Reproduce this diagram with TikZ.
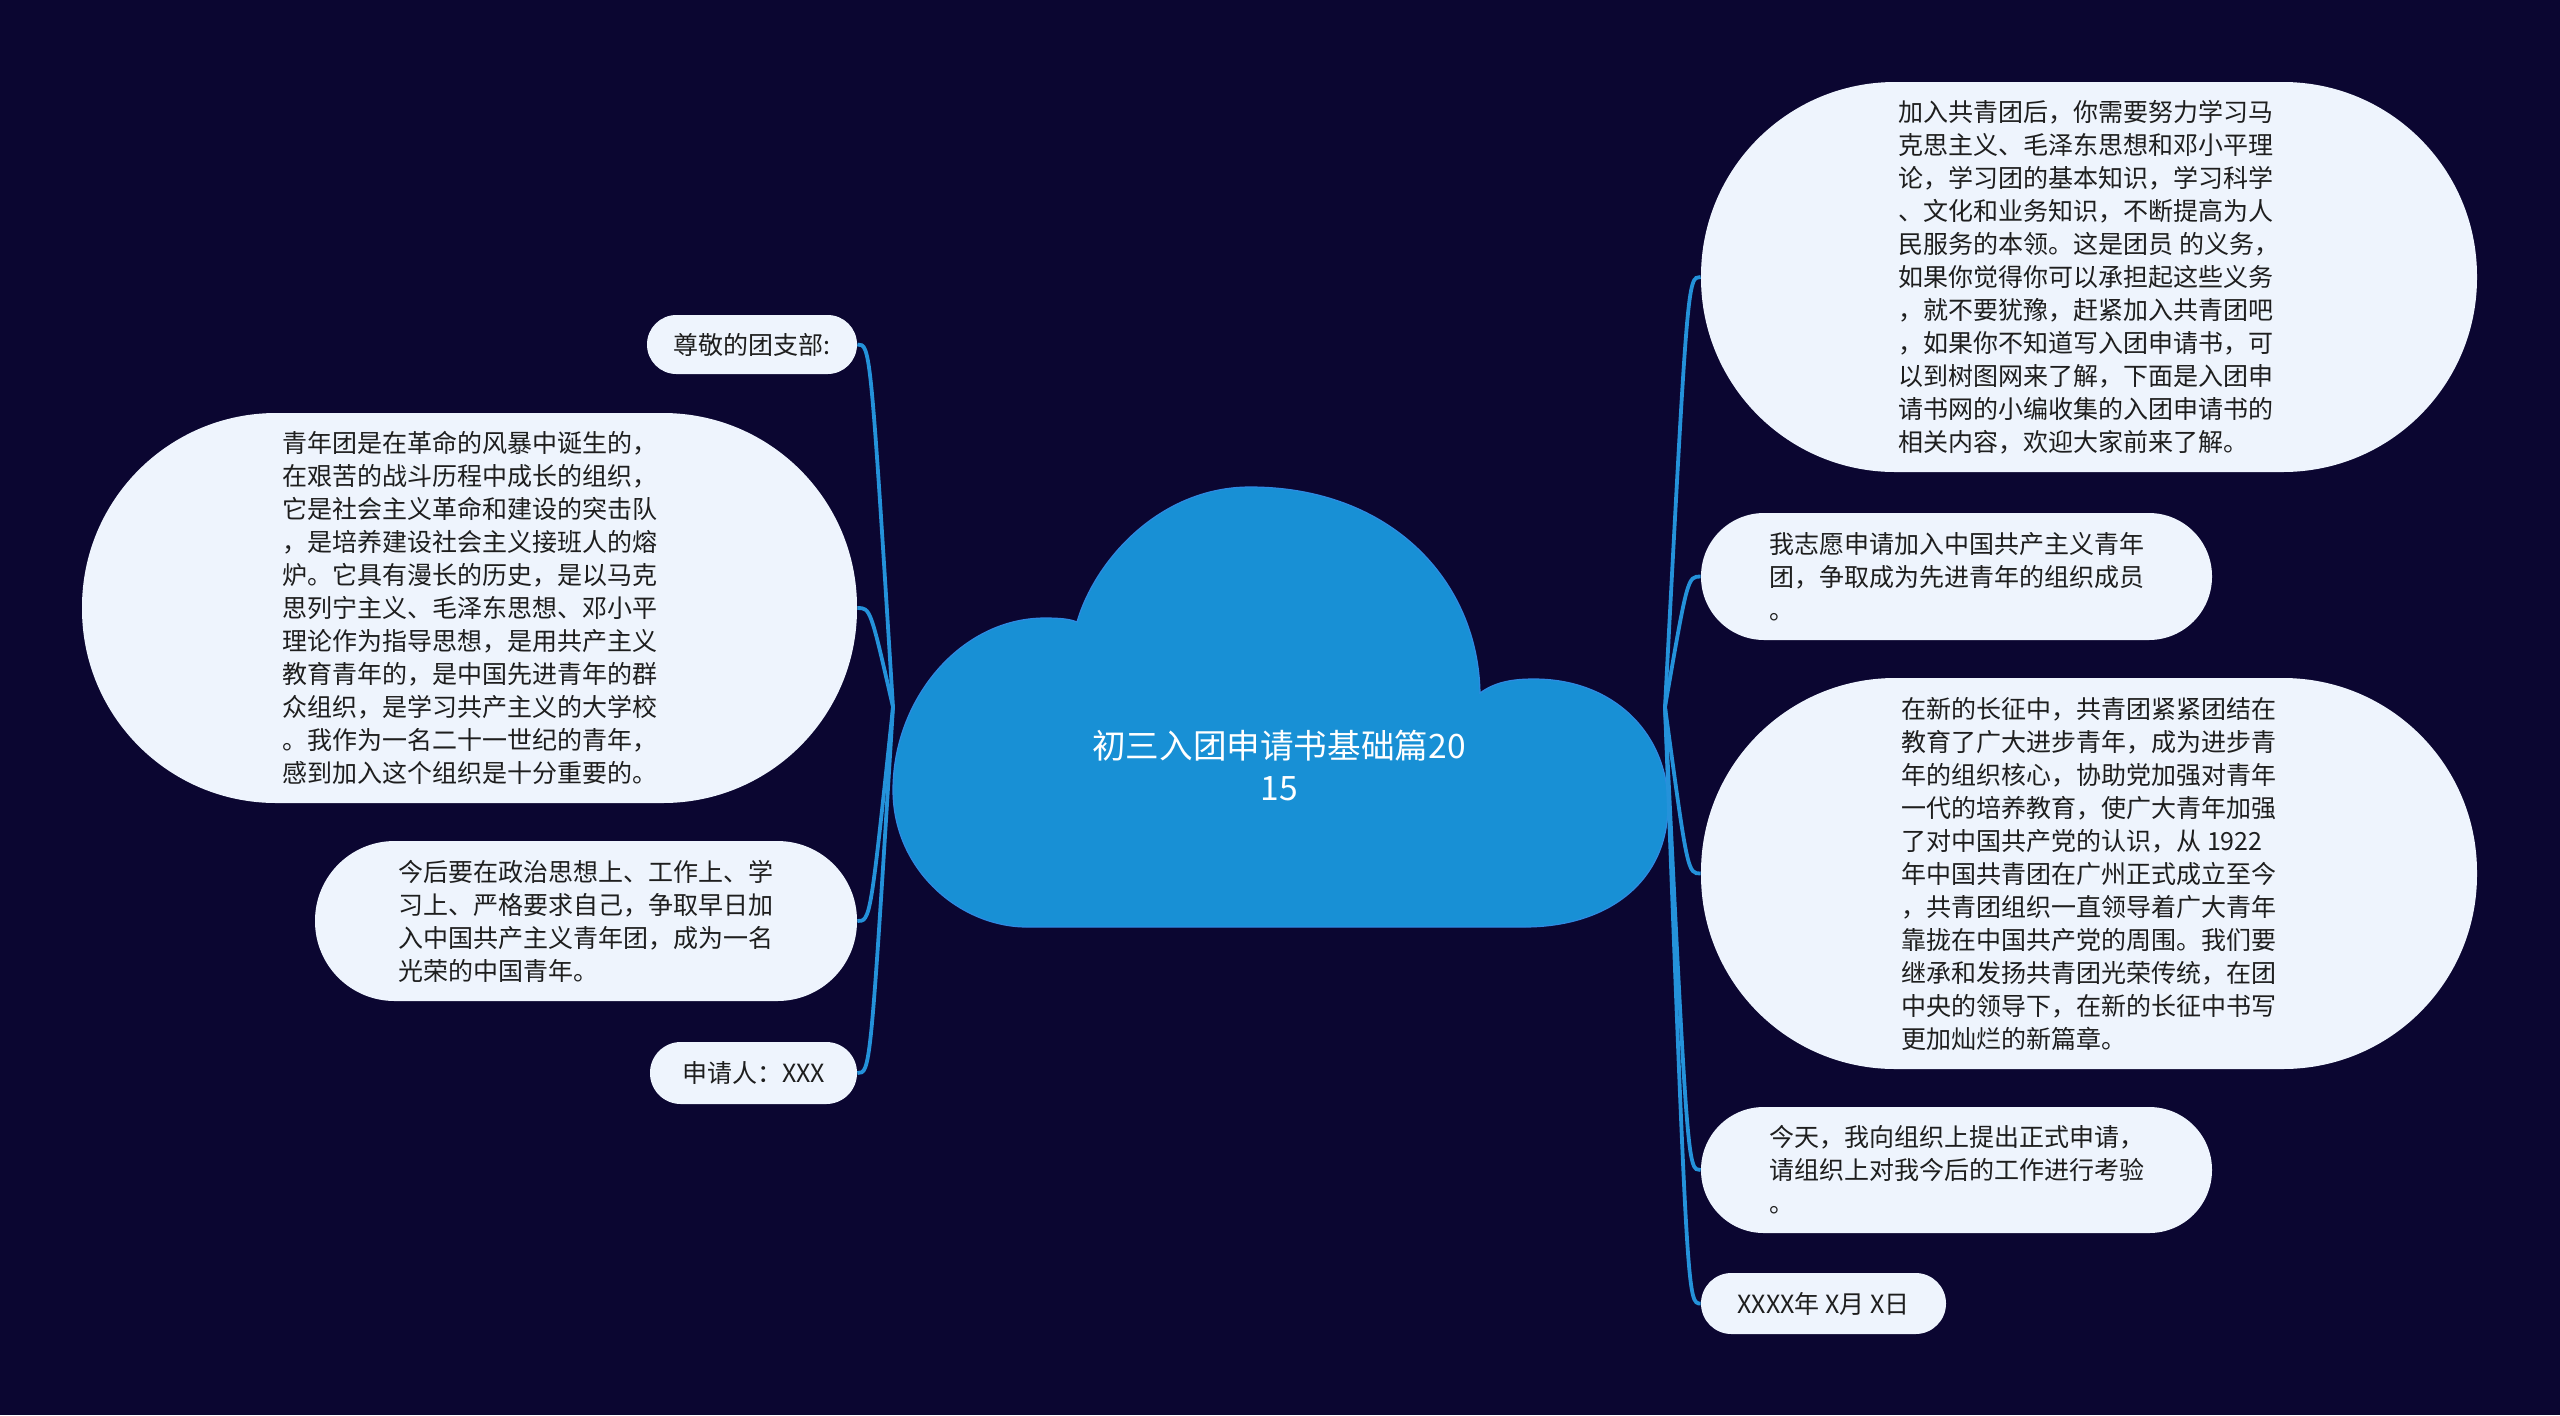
\documentclass[tikz,border=0pt]{standalone}
\usepackage{fontspec}
\newfontfamily\cjk{Noto Sans CJK SC}
\usetikzlibrary{calc}
\definecolor{bg}{HTML}{0B0631}
\definecolor{nodefill}{HTML}{EEF4FD}
\definecolor{cloudfill}{HTML}{1890D5}
\definecolor{cloudedge}{HTML}{2E8AE2}
\definecolor{linkcol}{HTML}{2492DA}
\definecolor{txt}{HTML}{1E1E1E}
\begin{document}
\begin{tikzpicture}[x=0.5pt,y=-0.5pt,
  box/.style={fill=nodefill, inner sep=0pt, text=txt, align=left, font=\cjk\fontsize{12.5}{16.5}\selectfont},
  conn/.style={draw=linkcol, line width=1.9pt},
  titletext/.style={text=white, align=center, inner sep=0pt, font=\cjk\fontsize{16.8}{21}\selectfont}]
\useasboundingbox (0,0) rectangle (2560,1415);
\fill[bg] (0,0) rectangle (2560,1415);

% cloud
\filldraw[fill=cloudfill, draw=cloudedge, line width=0.6pt]
  (1027,927) .. controls (960,927) and (893,870) .. (893,790)
  .. controls (893,700) and (960,618) .. (1045,618)
  .. controls (1060,618) and (1070,619) .. (1077,622)
  .. controls (1095,560) and (1160,487) .. (1250,487)
  .. controls (1390,487) and (1478,580) .. (1480,693)
  .. controls (1495,682) and (1512,679) .. (1534,679)
  .. controls (1615,679) and (1668,735) .. (1668,805)
  .. controls (1668,880) and (1610,927) .. (1524,927)
  -- cycle;
\node[titletext] (root) at (1279,766) {初三入团申请书基础篇20\\15};
\coordinate (rootL) at (893,707);
\coordinate (rootR) at (1665,707);

% left nodes
\node[box, minimum width=105pt, minimum height=29.5pt, rounded corners=14.7pt] (l1) at (752,344.5) {尊敬的团支部:};
\node[box, minimum width=387.5pt, minimum height=195pt, rounded corners=97pt] (l2) at (469.5,608) {青年团是在革命的风暴中诞生的，\\在艰苦的战斗历程中成长的组织，\\它是社会主义革命和建设的突击队\\，是培养建设社会主义接班人的熔\\炉。它具有漫长的历史，是以马克\\思列宁主义、毛泽东思想、邓小平\\理论作为指导思想，是用共产主义\\教育青年的，是中国先进青年的群\\众组织，是学习共产主义的大学校\\。我作为一名二十一世纪的青年，\\感到加入这个组织是十分重要的。};
\node[box, minimum width=271pt, minimum height=80pt, rounded corners=39.8pt] (l3) at (586,921) {今后要在政治思想上、工作上、学\\习上、严格要求自己，争取早日加\\入中国共产主义青年团，成为一名\\光荣的中国青年。};
\node[box, minimum width=103.5pt, minimum height=31pt, rounded corners=15.4pt] (l4) at (753.5,1073) {申请人：XXX};

% right nodes
\node[box, minimum width=388pt, minimum height=195pt, rounded corners=97pt] (r1) at (2089,277) {加入共青团后，你需要努力学习马\\克思主义、毛泽东思想和邓小平理\\论，学习团的基本知识，学习科学\\、文化和业务知识，不断提高为人\\民服务的本领。这是团员 的义务，\\如果你觉得你可以承担起这些义务\\，就不要犹豫，赶紧加入共青团吧\\，如果你不知道写入团申请书，可\\以到树图网来了解，下面是入团申\\请书网的小编收集的入团申请书的\\相关内容，欢迎大家前来了解。};
\node[box, minimum width=255.5pt, minimum height=63.5pt, rounded corners=31.6pt] (r2) at (1956.5,576.5) {我志愿申请加入中国共产主义青年\\团，争取成为先进青年的组织成员\\。};
\node[box, minimum width=388pt, minimum height=195.5pt, rounded corners=97pt] (r3) at (2089,873.5) {在新的长征中，共青团紧紧团结在\\教育了广大进步青年，成为进步青\\年的组织核心，协助党加强对青年\\一代的培养教育，使广大青年加强\\了对中国共产党的认识，从 1922\\年中国共青团在广州正式成立至今\\，共青团组织一直领导着广大青年\\靠拢在中国共产党的周围。我们要\\继承和发扬共青团光荣传统，在团\\中央的领导下，在新的长征中书写\\更加灿烂的新篇章。};
\node[box, minimum width=255.5pt, minimum height=63pt, rounded corners=31.4pt] (r4) at (1956.5,1170) {今天，我向组织上提出正式申请，\\请组织上对我今后的工作进行考验\\。};
\node[box, minimum width=122.5pt, minimum height=30.5pt, rounded corners=15.2pt] (r5) at (1823.5,1303.5) {XXXX年 X月 X日};

% connectors
\foreach \n in {l1,l2,l3,l4}
  \draw[conn] (rootL) .. controls ($(\n.east)+(13,0)$) .. (\n.east);
\foreach \n in {r1,r2,r3,r4,r5}
  \draw[conn] (rootR) .. controls ($(\n.west)+(-13,0)$) .. (\n.west);
\end{tikzpicture}
\end{document}
